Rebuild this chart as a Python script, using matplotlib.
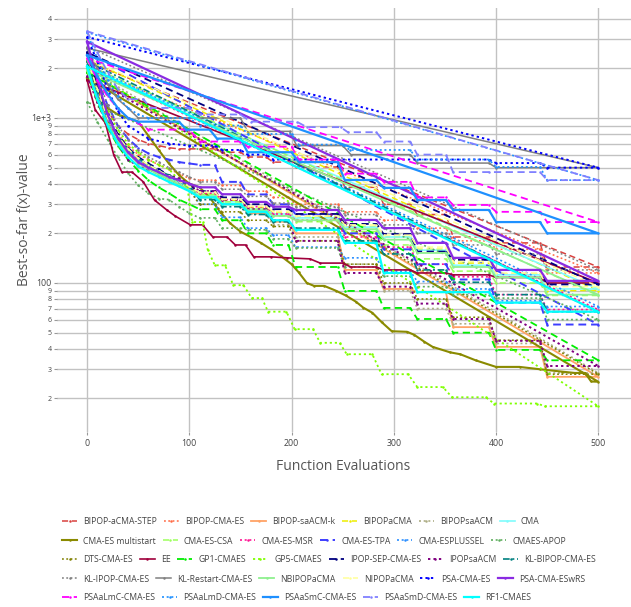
import numpy as np
import matplotlib
matplotlib.use("Agg")
import matplotlib.pyplot as plt
from matplotlib.lines import Line2D

plt.rcParams['font.family'] = ['Open Sans', 'DejaVu Sans']

# Shared evaluation grid used by most restart strategies (plateaus between restarts)
evals_grid = [0, 10, 20, 30, 40, 50, 60, 70, 80, 90, 100, 110, 125, 132, 150, 157, 175, 182,
              197, 204, 245, 252, 283, 290, 316, 323, 351, 358, 393, 400, 443, 450, 500]

bipop_acma_step = [2200, 1500, 1100, 900, 800, 740, 700, 680, 660, 650, 650, 650, 650, 620, 620, 580, 580,
                   540, 540, 505, 505, 380, 380, 300, 300, 260, 260, 190, 190, 175, 175, 125, 125]
bipop_cma_es = [2000, 1400, 1000, 800, 680, 600, 560, 520, 490, 460, 430, 420, 420, 390, 390, 360, 360,
                330, 330, 300, 300, 270, 270, 240, 240, 215, 215, 180, 180, 160, 160, 115, 115]
bipop_saacm_k = [1900, 1300, 930, 730, 610, 535, 490, 455, 425, 395, 365, 330, 330, 300, 300, 265, 265,
                 235, 235, 200, 200, 120, 120, 92, 92, 88, 88, 54, 54, 41, 41, 27, 27]
bipopacma = [2250, 1450, 980, 760, 640, 560, 510, 470, 440, 410, 380, 345, 345, 315, 315, 285, 285,
             265, 265, 250, 250, 220, 220, 190, 190, 160, 160, 132, 132, 113, 113, 90, 90]
bipopsaacm = [2000, 1350, 950, 740, 620, 545, 500, 460, 430, 400, 370, 330, 330, 300, 300, 262, 262,
              225, 225, 190, 190, 130, 130, 90, 90, 70, 70, 56.6, 56.6, 43, 43, 28.5, 28.5]
cma = [2000, 1350, 950, 740, 620, 545, 500, 465, 435, 405, 375, 340, 340, 310, 310, 280, 280,
       262, 262, 248, 248, 218, 218, 190, 190, 158, 158, 128, 128, 112, 112, 92, 92]
cma_es_csa = [2100, 1400, 980, 760, 640, 560, 510, 475, 440, 410, 380, 345, 345, 310, 310, 280, 280,
              255, 255, 235, 235, 205, 205, 170, 170, 140, 140, 118, 118, 100, 100, 84, 84]
cma_es_msr = [2000, 1350, 950, 740, 630, 560, 510, 475, 445, 415, 385, 350, 350, 320, 320, 290, 290,
              262, 262, 240, 240, 190, 190, 165, 165, 130, 130, 109, 109, 85, 85, 69, 69]
cma_es_tpa = [2500, 1700, 1200, 900, 750, 660, 610, 580, 560, 540, 530, 520, 520, 410, 410, 344, 344,
              300, 300, 260, 260, 200, 200, 160, 160, 130, 130, 105, 105, 76, 76, 56, 56]
cma_esplussel = [2100, 1400, 980, 760, 640, 560, 510, 470, 440, 410, 380, 300, 300, 250, 250, 215, 215,
                 195, 195, 165, 165, 142, 142, 118, 118, 102, 102, 92, 92, 78, 78, 72, 72]
cmaes_apop = [1250, 950, 740, 580, 465, 390, 350, 325, 320, 290, 265, 248, 248, 215, 215, 210, 210,
              185, 185, 163, 163, 125, 125, 110, 110, 95, 95, 85, 85, 81, 81, 60, 60]
dts_cma_es = [1900, 1300, 930, 730, 610, 535, 490, 455, 425, 395, 365, 300, 300, 270, 270, 240, 240,
              220, 220, 180, 180, 130, 130, 100, 100, 80, 80, 62, 62, 45, 45, 28, 28]
gp1_cmaes = [1900, 1250, 880, 680, 560, 480, 420, 380, 350, 320, 300, 280, 280, 240, 240, 200, 200,
             170, 170, 125, 125, 89.5, 89.5, 70.6, 70.6, 60.5, 60.5, 50, 50, 39.3, 39.3, 34, 34]
ipop_sep_cma_es = [2500, 1600, 1050, 800, 660, 580, 530, 490, 450, 420, 390, 360, 360, 330, 330, 300, 300,
                   280, 280, 262, 262, 228, 228, 198, 198, 155, 155, 138, 138, 120, 120, 98, 98]
ipopsaacm = [1800, 1250, 900, 700, 560, 510, 485, 470, 450, 430, 400, 360, 360, 320, 320, 280, 280,
             240, 240, 180, 180, 115, 115, 95, 95, 75, 75, 60.5, 60.5, 44.6, 44.6, 31.4, 31.4]
kl_bipop_cma_es = [2200, 1450, 1000, 780, 650, 570, 520, 480, 450, 420, 390, 320, 320, 290, 290, 260, 260,
                   235, 235, 215, 215, 180, 180, 150, 150, 120, 120, 101, 101, 85, 85, 67, 67]
kl_ipop_cma_es = [2700, 1800, 1200, 900, 740, 640, 580, 540, 500, 470, 440, 410, 410, 370, 370, 335, 335,
                  305, 305, 290, 290, 260, 260, 225, 225, 200, 200, 170, 170, 150, 150, 120, 120]
nbipopacma = [1950, 1300, 920, 720, 610, 535, 490, 455, 425, 395, 365, 335, 335, 300, 300, 275, 275,
              255, 255, 240, 240, 212, 212, 183, 183, 152, 152, 125, 125, 108, 108, 85, 85]
nipopacma = [2300, 1500, 1000, 780, 650, 570, 520, 480, 445, 415, 385, 355, 355, 322, 322, 292, 292,
             272, 272, 255, 255, 225, 225, 195, 195, 165, 165, 135, 135, 115, 115, 95, 95]
psa_cma_eswrs = [2900, 1700, 1050, 760, 620, 540, 500, 470, 440, 420, 400, 380, 380, 345, 345, 310, 310,
                 290, 290, 277, 277, 241, 241, 215, 215, 175, 175, 142, 142, 120, 120, 103, 103]
rf1_cmaes = [2050, 1300, 900, 700, 580, 510, 470, 440, 410, 385, 360, 330, 330, 300, 300, 270, 270,
             240, 240, 210, 210, 175, 175, 115, 115, 88, 88, 88, 88, 76, 76, 67, 67]

# Strategies recorded at their own evaluation counts
multistart_x = [0, 10, 20, 30, 40, 50, 60, 70, 80, 90, 100, 110, 120, 130, 140, 150, 160, 170, 180, 190,
                200, 207, 215, 222, 232, 243, 253, 263, 270, 279, 288, 298, 313, 320, 330, 338, 355, 365,
                380, 400, 423, 443, 465, 477, 487, 493, 500]
multistart_y = [1750, 1400, 1150, 1050, 1000, 950, 780, 640, 530, 450, 400, 380, 330, 270, 230, 205, 190,
                175, 160, 145, 130, 116, 100, 96, 96, 90, 84, 77, 71, 66, 58, 51, 50.6, 48.5, 44, 41, 38,
                37, 34, 31, 31, 30, 29, 28.5, 28.5, 25.3, 25.2]

ee_x = [0, 8, 18, 26, 34, 44, 55, 66, 78, 86, 101, 113, 123, 137, 145, 155, 163, 180, 196, 218, 228, 250,
        258, 283, 290, 316, 323, 351, 358, 393, 400, 443, 450, 500]
ee_y = [1700, 1120, 930, 600, 470, 470, 410, 318, 277, 255, 225, 225, 190, 190, 170, 170, 144, 144, 142,
        140, 132, 132, 125, 125, 120, 120, 115, 115, 112, 112, 108, 108, 100, 100]

gp5_x = [0, 10, 20, 30, 40, 50, 60, 70, 80, 90, 98, 103, 113, 118, 125, 135, 143, 153, 161, 171, 177, 195,
         203, 221, 228, 247, 254, 279, 288, 314, 323, 348, 357, 390, 398, 440, 448, 500]
gp5_y = [2000, 1500, 1100, 850, 700, 620, 560, 520, 490, 420, 382, 234, 234, 159, 128, 128, 97, 97, 81, 81,
         67, 67, 52.5, 52.5, 43.4, 43.4, 37, 37, 28, 28, 23.4, 23.4, 20.3, 20.3, 18.6, 18.6, 17.9, 17.9]

kl_restart_x = [0, 10, 20, 30, 40, 50, 150, 157, 198, 205, 250, 258, 316, 323, 393, 400, 500]
kl_restart_y = [2650, 2000, 1600, 1300, 1150, 1000, 1000, 830, 830, 680, 680, 600, 600, 533, 533, 500, 500]

psa_x = [0, 10, 20, 30, 40, 60, 80, 100, 125, 132, 150, 157, 175, 182, 393, 400, 443, 450, 500]
psa_y = [3100, 2200, 1500, 1100, 900, 750, 700, 680, 680, 640, 640, 600, 600, 560, 560, 533, 533, 500, 500]

psaalmc_x = [0, 10, 20, 30, 40, 50, 60, 100, 110, 150, 157, 200, 207, 245, 252, 283, 290, 316, 323, 351,
             358, 393, 400, 443, 450, 500]
psaalmc_y = [2300, 1700, 1350, 1150, 1000, 930, 850, 850, 720, 720, 670, 670, 560, 560, 460, 460, 410, 410,
             330, 330, 297, 297, 270, 270, 234, 234]

psaalmd_x = [0, 10, 20, 30, 40, 50, 60, 100, 110, 150, 157, 200, 207, 250, 257, 316, 323, 393, 400, 443,
             450, 500]
psaalmd_y = [3300, 2300, 1700, 1350, 1150, 1050, 1000, 1000, 900, 900, 800, 800, 690, 690, 640, 640, 560,
             560, 505, 505, 420, 420]

psaasmc_x = [0, 10, 20, 30, 40, 50, 90, 97, 120, 127, 150, 157, 200, 207, 245, 252, 283, 290, 316, 323,
             351, 358, 393, 400, 443, 450, 500]
psaasmc_y = [2400, 1800, 1400, 1150, 1000, 950, 950, 850, 850, 750, 750, 620, 620, 540, 540, 421, 421, 377,
             377, 318, 318, 277, 277, 234, 234, 200, 200]

psaasmd_x = [0, 10, 20, 30, 40, 55, 62, 100, 110, 150, 160, 205, 215, 248, 255, 283, 290, 316, 323, 351,
             358, 393, 443, 450, 500]
psaasmd_y = [3350, 2500, 1900, 1500, 1300, 1300, 1150, 1150, 1050, 1050, 950, 950, 880, 880, 820, 820, 720,
             720, 600, 600, 470, 470, 470, 420, 420]

# (label, x, y, colour, line style, width)
DOT = (0, (1.2, 1.6))
DASH = (0, (4, 2.5))
DASHDOT = (0, (4, 1.6, 1.2, 1.6))
series = [
    ("BIPOP-aCMA-STEP", evals_grid, bipop_acma_step, "#d9413f", DASH, 1.1),
    ("BIPOP-CMA-ES", evals_grid, bipop_cma_es, "#ff6a45", DOT, 1.1),
    ("BIPOP-saACM-k", evals_grid, bipop_saacm_k, "#ffa366", "-", 1.3),
    ("BIPOPaCMA", evals_grid, bipopacma, "#eeee00", DASH, 1.1),
    ("BIPOPsaACM", evals_grid, bipopsaacm, "#adad85", DOT, 1.2),
    ("CMA", evals_grid, cma, "#7ffcfc", "-", 1.2),
    ("CMA-ES multistart", multistart_x, multistart_y, "#8a8a00", "-", 1.5),
    ("CMA-ES-CSA", evals_grid, cma_es_csa, "#9cff5c", DASH, 1.1),
    ("CMA-ES-MSR", evals_grid, cma_es_msr, "#ff1493", DOT, 1.2),
    ("CMA-ES-TPA", evals_grid, cma_es_tpa, "#3d3dff", DASH, 1.4),
    ("CMA-ESPLUSSEL", evals_grid, cma_esplussel, "#2b8fff", DOT, 1.2),
    ("CMAES-APOP", evals_grid, cmaes_apop, "#5fae5f", DOT, 1.2),
    ("DTS-CMA-ES", evals_grid, dts_cma_es, "#808000", DOT, 1.1),
    ("EE", ee_x, ee_y, "#a0003c", "-", 1.2),
    ("GP1-CMAES", evals_grid, gp1_cmaes, "#00ee00", DASH, 1.3),
    ("GP5-CMAES", gp5_x, gp5_y, "#7fff00", DOT, 1.3),
    ("IPOP-SEP-CMA-ES", evals_grid, ipop_sep_cma_es, "#00007f", DASH, 1.3),
    ("IPOPsaACM", evals_grid, ipopsaacm, "#800080", DOT, 1.4),
    ("KL-BIPOP-CMA-ES", evals_grid, kl_bipop_cma_es, "#008080", DASHDOT, 1.2),
    ("KL-IPOP-CMA-ES", evals_grid, kl_ipop_cma_es, "#808080", DOT, 1.1),
    ("KL-Restart-CMA-ES", kl_restart_x, kl_restart_y, "#808080", "-", 1.1),
    ("NBIPOPaCMA", evals_grid, nbipopacma, "#8ff08f", "-", 1.3),
    ("NIPOPaCMA", evals_grid, nipopacma, "#ffff99", DASH, 1.1),
    ("PSA-CMA-ES", psa_x, psa_y, "#0000ff", DOT, 1.4),
    ("PSA-CMA-ESwRS", evals_grid, psa_cma_eswrs, "#8a2be2", "-", 1.6),
    ("PSAaLmC-CMA-ES", psaalmc_x, psaalmc_y, "#ff00ff", DASH, 1.3),
    ("PSAaLmD-CMA-ES", psaalmd_x, psaalmd_y, "#1e90ff", DOT, 1.2),
    ("PSAaSmC-CMA-ES", psaasmc_x, psaasmc_y, "#1e90ff", "-", 1.6),
    ("PSAaSmD-CMA-ES", psaasmd_x, psaasmd_y, "#8080ff", DASH, 1.3),
    ("RF1-CMAES", evals_grid, rf1_cmaes, "#00ffff", "-", 1.6),
]

W, H = 631, 607
fig = plt.figure(figsize=(W / 100, H / 100), dpi=100)
ax = fig.add_axes([57 / W, 1 - 432 / H, (W - 57) / W, (432 - 8) / H])
ax.set_yscale("log")
ax.set_xlim(-29.4, 532)
ax.set_ylim(12.5, 4640)
for s in ax.spines.values():
    s.set_visible(False)

yt = [20, 30, 40, 50, 60, 70, 80, 90, 100, 200, 300, 400, 500, 600, 700, 800, 900, 1000, 2000, 3000, 4000]
ytl = ["2", "3", "4", "5", "6", "7", "8", "9", "100", "2", "3", "4", "5", "6", "7", "8", "9", "1e+3",
       "2", "3", "4"]
ax.yaxis.set_minor_locator(matplotlib.ticker.NullLocator())
ax.set_yticks(yt)
ax.set_yticklabels(ytl)
for lab, v in zip(ax.get_yticklabels(), yt):
    lab.set_fontsize(6.3 if v in (100, 1000) else 5.0)
    lab.set_color("#444444")
ax.set_xticks([0, 100, 200, 300, 400, 500])
ax.tick_params(axis="x", labelsize=6.3, labelcolor="#444444", length=2, color="#999999", pad=3)
ax.tick_params(axis="y", length=2, color="#999999", pad=2)
ax.grid(True, color="#c2c2c2", lw=1.0, zorder=0)
ax.set_axisbelow(True)

for label, xs, ys, color, ls, lw in series:
    xs = np.asarray(xs, dtype=float)
    ys = np.asarray(ys, dtype=float)
    # the trace returns to its first record, closing the path
    xc = np.append(xs, xs[0])
    yc = np.append(ys, ys[0])
    ax.plot(xc, yc, color=color, ls=ls, lw=lw, marker="o", markersize=1.8,
            markeredgewidth=0, label=label, clip_on=False)

fig.text(25 / W, 1 - 220 / H, "Best-so-far f(x)-value", rotation=90, ha="center", va="center",
         fontsize=10, color="#555555")
fig.text(343 / W, 1 - 466 / H, "Function Evaluations", ha="center", va="center",
         fontsize=10, color="#555555")

# legend flows in rows of varying length
rows = [6, 6, 7, 6, 5]
row_y = [522, 541, 560, 579, 598]
start = 0
for n, yy in zip(rows, row_y):
    handles = []
    for label, xs, ys, color, ls, lw in series[start:start + n]:
        handles.append(Line2D([0], [0], color=color, ls=ls, lw=lw, marker="o", markersize=1.8,
                              markeredgewidth=0, label=label))
    fig.legend(handles=handles, loc="center left", bbox_to_anchor=(62 / W, 1 - yy / H),
               ncol=n, frameon=False, fontsize=6.2, handlelength=1.75, handletextpad=0.7,
               columnspacing=0.8, borderpad=0, borderaxespad=0, numpoints=1,
               labelcolor="#444444")
    start += n

fig.savefig("out.png", dpi=100)
